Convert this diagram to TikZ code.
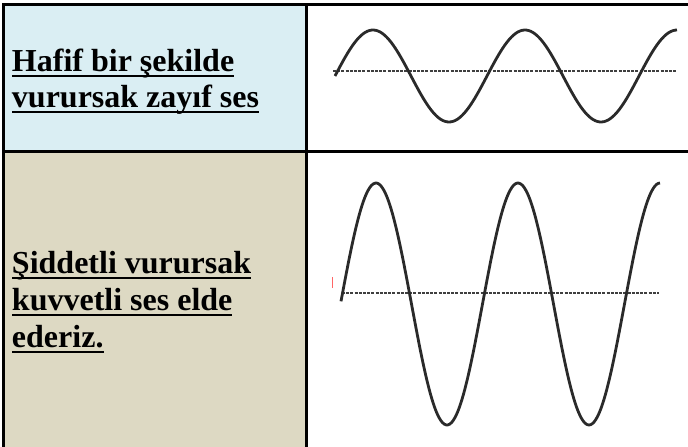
\documentclass[tikz,border=0pt]{standalone}
\usepackage{fontspec}
\setmainfont{Liberation Serif}
\definecolor{cellblue}{HTML}{DAEEF3}
\definecolor{celltan}{HTML}{DDD9C3}
\definecolor{wavegray}{HTML}{2A2A2A}
\begin{document}
\begin{tikzpicture}[x=1pt,y=-1pt,
  txt/.style={anchor=base west,inner sep=0pt,outer sep=0pt,text=black,font=\fontsize{32}{36}\selectfont\bfseries},
  ul/.style={line width=2.6pt,black},
  border/.style={line width=3pt,black},
  wave/.style={line width=2.8pt,wavegray,line join=round},
  axis/.style={line width=2.6pt,wavegray!90,dash pattern=on 3pt off 1.2pt}]
\useasboundingbox (0,0) rectangle (688,447);
% cell fills
\fill[cellblue] (3.5,4.5) rectangle (306,151);
\fill[celltan] (3.5,151) rectangle (306,447);
% texts
\node[txt] (a1) at (12,71) {Hafif bir şekilde};
\node[txt] (a2) at (12,107) {vurursak zayıf ses};
\node[txt] (b1) at (12,273) {Şiddetli vurursak};
\node[txt] (b2) at (12,310) {kuvvetli ses elde};
\node[txt] (b3) at (12,347) {ederiz.};
\foreach \n in {a1,a2,b1,b2,b3}
  \draw[ul] ([yshift=-5pt]\n.base west) -- ([yshift=-5pt]\n.base east);
% wave 1 (weak sound)
\coordinate (w1s) at (333,71);
\coordinate (w1e) at (677,71);
\draw[axis] (w1s) -- (w1e);
\draw[wave] plot[domain=335:677,samples=160,smooth] (\x,{76-46*sin((\x-335)/152*360)});
% wave 2 (strong sound)
\coordinate (w2s) at (342,293);
\coordinate (w2e) at (659,293);
\draw[axis] (w2s) -- (w2e);
\draw[wave] plot[domain=341:660,samples=180,smooth] (\x,{304-121*cos((\x-518)/142*360)});
% small red mark
\coordinate (r1) at (332.5,277);
\coordinate (r2) at (332.5,288);
\draw[red!60,line width=1.3pt] (r1) -- (r2);
% table borders
\coordinate (tl) at (2,4.5);
\coordinate (tr) at (688,4.5);
\coordinate (ml) at (2,151);
\coordinate (mr) at (688,151);
\draw[border] (tl) -- (tr);
\draw[border] (ml) -- (mr);
\draw[border] (3.5,3) -- (3.5,447);
\draw[border] (306,3) -- (306,447);
\end{tikzpicture}
\end{document}
